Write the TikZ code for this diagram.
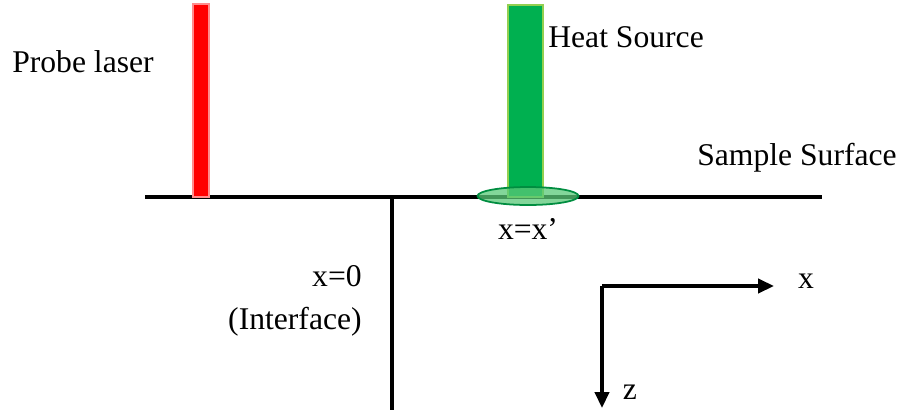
\documentclass[tikz,border=0pt]{standalone}
\usepackage{fontspec}
\setmainfont{Liberation Serif}
\usetikzlibrary{arrows.meta}

\definecolor{heatgreen}{RGB}{0,176,80}
\definecolor{heatedge}{RGB}{146,208,80}
\definecolor{spotfill}{RGB}{90,200,120}

\tikzset{
  label text/.style={font=\fontsize{18}{22}\selectfont, inner sep=0pt},
  thickline/.style={line width=1.9pt},
  axis/.style={line width=1.9pt, -{Triangle[length=9pt,width=8pt]}}
}

\begin{document}
\begin{tikzpicture}[x=0.02cm, y=-0.02cm]
\useasboundingbox (0,0) rectangle (903,413);

% Sample surface and interface
\coordinate (sleft) at (145,197);
\coordinate (sright) at (822,197);
\coordinate (itop) at (392,197);
\coordinate (ibot) at (392,410);
\draw[thickline] (sleft) -- (sright);
\draw[thickline] (itop) -- (ibot);

% Probe laser beam
\fill[red] (193,4) rectangle (209,197);
\draw[red!45, line width=0.6pt] (193,4) rectangle (209,197);

% Heat source beam
\fill[heatgreen] (508,5) rectangle (543,197);
\draw[heatedge, line width=1.2pt] (508,5) rectangle (543,197);

% Heated spot
\fill[spotfill, opacity=0.75] (528,196) ellipse (50.5 and 9);
\draw[heatgreen!80!black, line width=1pt] (528,196) ellipse (50.5 and 9);

% Coordinate axes
\coordinate (O) at (602,286);
\coordinate (xend) at (774,286);
\coordinate (zend) at (602,408);
\draw[axis] (O) -- (xend);
\draw[axis] (O) -- (zend);

% Labels
\node[label text] (probe) at (83,62) {Probe laser};
\node[label text, anchor=west] (heat) at (548,37) {Heat Source};
\node[label text] (surf) at (797,158) {Sample Surface};
\node[label text] (xprime) at (528,229) {x=x'};
\node[label text, anchor=east] (xzero) at (362,276) {x=0};
\node[label text, anchor=east] (iface) at (362,322) {(Interface)};
\node[label text] (xlab) at (806,281) {x};
\node[label text] (zlab) at (630,392) {z};

\end{tikzpicture}
\end{document}
